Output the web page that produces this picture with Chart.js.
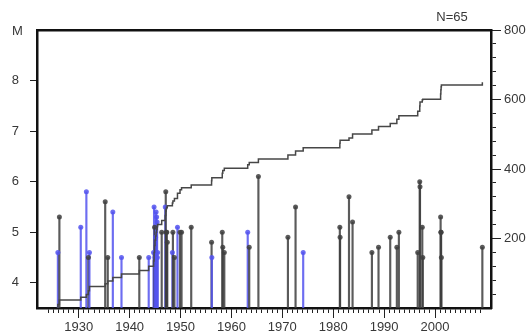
<!DOCTYPE html>
<html>
<head>
<meta charset="utf-8">
<title>M / N</title>
<script src="https://cdn.jsdelivr.net/npm/chart.js@4.4.1/dist/chart.umd.min.js"></script>
<style>
  html, body { margin: 0; padding: 0; background: #fff; overflow: hidden; }
  #wrap { width: 531px; height: 334px; }
</style>
</head>
<body>
<div id="wrap"><canvas id="quake_canvas" width="531" height="334"></canvas></div>
<script>
//  event list: decimal year, magnitude, source (1 = blue catalogue)
var EVENT_YEAR = [1925.9, 1926.2, 1930.4, 1931.5, 1931.9, 1932.1, 1935.2, 1935.7, 1936.7, 1938.4,
                  1941.9, 1943.75, 1944.7, 1944.8, 1944.9, 1945.0, 1945.1, 1945.2, 1945.3, 1945.4,
                  1945.45, 1945.5, 1946.3, 1947.0, 1947.1, 1947.2, 1947.3, 1947.4, 1948.4, 1948.5,
                  1948.8, 1949.4, 1949.9, 1950.2, 1952.1, 1956.1, 1956.15, 1958.2, 1958.3, 1958.6,
                  1963.2, 1963.5, 1965.3, 1971.1, 1972.6, 1974.1, 1981.3, 1981.35, 1983.1, 1983.8,
                  1987.6, 1988.9, 1991.2, 1992.5, 1992.9, 1996.6, 1997.0, 1997.05, 1997.5, 1997.6,
                  2001.1, 2001.15, 2001.2, 2001.25, 2009.3];
var EVENT_MAG  = [4.6, 5.3, 5.1, 5.8, 4.5, 4.6, 5.6, 4.5, 5.4, 4.5,
                  4.5, 4.5, 4.6, 5.5, 5.1, 4.5, 4.9, 5.4, 5.3, 5.2,
                  4.5, 4.6, 5.0, 5.5, 5.8, 5.0, 5.0, 4.8, 4.6, 5.0,
                  4.5, 5.1, 5.0, 5.0, 5.1, 4.8, 4.5, 5.0, 4.7, 4.6,
                  5.0, 4.7, 6.1, 4.9, 5.5, 4.6, 5.1, 4.9, 5.7, 5.2,
                  4.6, 4.7, 4.9, 4.7, 5.0, 4.6, 6.0, 5.9, 5.1, 4.5,
                  5.3, 5.0, 5.0, 4.5, 4.7];
var EVENT_SRC  = [1, 0, 1, 1, 0, 1, 0, 0, 1, 1,
                  0, 1, 1, 1, 0, 1, 1, 1, 1, 1,
                  1, 1, 0, 1, 0, 0, 0, 0, 1, 0,
                  0, 1, 0, 0, 0, 0, 1, 0, 0, 0,
                  1, 0, 0, 0, 0, 1, 0, 0, 0, 0,
                  0, 0, 0, 0, 0, 0, 0, 0, 0, 0,
                  0, 0, 0, 0, 0];
//  cumulative curve (right axis) after each event
var EVENT_CUM  = [10, 23, 31, 39, 50, 62, 70, 78, 88, 98,
                  108, 120, 135, 160, 180, 195, 207, 218, 226, 232,
                  236, 240, 252, 266, 279, 286, 290, 294, 302, 308,
                  315, 330, 340, 346, 354, 366, 375, 388, 396, 402,
                  412, 419, 429, 440, 452, 461, 474, 483, 489, 501,
                  512, 522, 531, 543, 553, 566, 581, 593, 599, 601,
                  616, 628, 637, 642, 650];

//  axes
var MAG_TICKS    = [4, 5, 6, 7, 8];
var DECADE_TICKS = [1930, 1940, 1950, 1960, 1970, 1980, 1990, 2000];
var CUM_TICKS    = [200, 400, 600, 800];
var YEAR_RANGE   = [1921.8, 2011];
var MINOR_YEARS  = [1924, 2009];
var MAG_RANGE    = [3.5, 9];
var CUM_RANGE    = [0, 800];
var CUM_MINOR    = 40;

(function() {
  'use strict';

  var GRAY  = 'rgba(62, 62, 62, 0.85)',
      BLUE  = 'rgba(84, 84, 238, 0.85)',
      FRAME = '#111',
      TEXT  = '#383838',
      FONT  = { family: '"Liberation Sans", Arial, sans-serif', size: 13 };

  var stems = [], tops = [], curve = [{ x: EVENT_YEAR[0], y: 0 }], colors = [];

  for (var i = 0; i < EVENT_YEAR.length; i++) {
    stems.push({ x: EVENT_YEAR[i], y: EVENT_MAG[i] });
    tops.push({ x: EVENT_YEAR[i], y: EVENT_MAG[i] });
    curve.push({ x: EVENT_YEAR[i], y: EVENT_CUM[i] });
    colors.push(EVENT_SRC[i] ? BLUE : GRAY);
  }

  //  helper: fixed tick list
  var fixedTicks = function(list) {
    return function(scale) {
      scale.ticks = list.map(function(v) { return { value: v }; });
    };
  };

  var yearTicks = [];
  for (var y = MINOR_YEARS[0]; y <= MINOR_YEARS[1]; y++) yearTicks.push(y);

  var cumTicks = [];
  for (var c = CUM_RANGE[0] + CUM_MINOR; c < CUM_RANGE[1]; c += CUM_MINOR) cumTicks.push(c);

  var tickGrid = function(len) {
    return { display: true, drawOnChartArea: false, drawTicks: true, offset: false,
             tickLength: len, color: '#222', lineWidth: 1 };
  };
  var frame = { display: true, width: 2.5, color: FRAME };

  //  corner labels
  var cornerText = {
    id: 'cornerText',
    afterDraw: function(chart) {
      var ctx = chart.ctx, area = chart.chartArea;
      ctx.save();
      ctx.font = '13px "Liberation Sans", Arial, sans-serif';
      ctx.fillStyle = TEXT;
      ctx.textBaseline = 'middle';
      ctx.textAlign = 'left';
      ctx.fillText('M', area.left - 25, area.top + 1);
      ctx.textAlign = 'center';
      ctx.fillText('N=' + EVENT_YEAR.length, area.right - 39, area.top - 13);
      ctx.restore();
    }
  };

  var ctx = document.getElementById('quake_canvas').getContext('2d');

  new Chart(ctx, {
    type: 'scatter',
    data: {
      datasets: [{
        type: 'line',
        data: curve,
        xAxisID: 'x',
        yAxisID: 'yR',
        stepped: true,
        borderColor: '#474747',
        borderWidth: 1.5,
        pointRadius: 0,
        fill: false,
        order: 0
      }, {
        type: 'scatter',
        data: tops,
        xAxisID: 'x',
        yAxisID: 'y',
        pointStyle: 'circle',
        pointRadius: 2.5,
        pointBorderWidth: 0,
        pointBackgroundColor: colors,
        order: 1
      }, {
        type: 'bar',
        data: stems,
        xAxisID: 'x',
        yAxisID: 'y',
        barThickness: 1.5,
        backgroundColor: colors,
        borderWidth: 0,
        grouped: false,
        order: 2
      }]
    },
    options: {
      responsive: false,
      animation: false,
      devicePixelRatio: 1,
      layout: { padding: { top: 30, left: 0, right: 0, bottom: 0 } },
      plugins: { legend: { display: false }, tooltip: { enabled: false } },
      scales: {
        x: {
          type: 'linear', position: 'bottom', weight: 0, offset: false,
          min: YEAR_RANGE[0], max: YEAR_RANGE[1],
          afterBuildTicks: fixedTicks(yearTicks),
          afterFit: function(s) { s.height = 0; },
          ticks: { display: false },
          grid: tickGrid(5),
          border: frame
        },
        xMajor: {
          type: 'linear', position: 'bottom', weight: 1, offset: false,
          min: YEAR_RANGE[0], max: YEAR_RANGE[1],
          afterBuildTicks: fixedTicks(DECADE_TICKS),
          afterFit: function(s) { s.height = 26; },
          ticks: { font: FONT, color: TEXT, padding: 2, maxRotation: 0, autoSkip: false,
                   callback: function(v) { return String(v); } },
          grid: tickGrid(10),
          border: { display: false }
        },
        xTop: {
          type: 'linear', position: 'top', offset: false,
          min: YEAR_RANGE[0], max: YEAR_RANGE[1],
          afterFit: function(s) { s.height = 0; },
          ticks: { display: false },
          grid: { display: false },
          border: frame
        },
        y: {
          type: 'linear', position: 'left',
          min: MAG_RANGE[0], max: MAG_RANGE[1],
          afterBuildTicks: fixedTicks(MAG_TICKS),
          afterFit: function(s) { s.width = 37; },
          ticks: { font: FONT, color: TEXT, padding: 11 },
          grid: tickGrid(7),
          border: frame
        },
        yMinorR: {
          type: 'linear', position: 'right', weight: 0,
          min: CUM_RANGE[0], max: CUM_RANGE[1],
          afterBuildTicks: fixedTicks(cumTicks),
          afterFit: function(s) { s.width = 0; },
          ticks: { display: false },
          grid: tickGrid(5),
          border: frame
        },
        yR: {
          type: 'linear', position: 'right', weight: 1,
          min: CUM_RANGE[0], max: CUM_RANGE[1],
          afterBuildTicks: fixedTicks(CUM_TICKS),
          afterFit: function(s) { s.width = 40; },
          ticks: { font: FONT, color: TEXT, padding: 3 },
          grid: tickGrid(10),
          border: { display: false }
        }
      }
    },
    plugins: [cornerText]
  });

})();
</script>
</body>
</html>
